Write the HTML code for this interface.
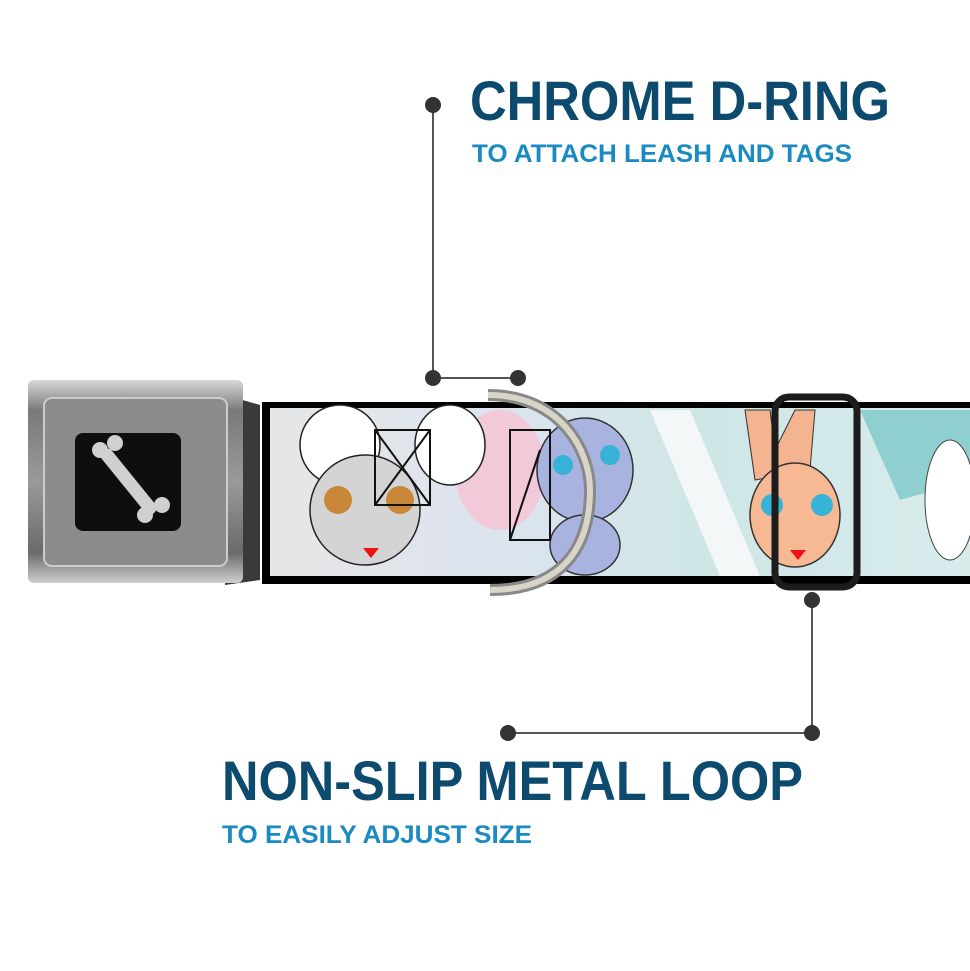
<!DOCTYPE html>
<html><head><meta charset="utf-8"><style>
html,body{margin:0;padding:0;background:#fff;}
svg{display:block}
text{font-family:"Liberation Sans",sans-serif;font-weight:bold}
</style></head><body>
<svg width="970" height="971" viewBox="0 0 970 971" xmlns="http://www.w3.org/2000/svg">
<defs>
<linearGradient id="buck" x1="0" y1="0" x2="0" y2="1">
<stop offset="0" stop-color="#d8d8d8"/><stop offset="0.15" stop-color="#7a7a7a"/><stop offset="0.5" stop-color="#9a9a9a"/><stop offset="0.85" stop-color="#6a6a6a"/><stop offset="1" stop-color="#cfcfcf"/>
</linearGradient>
<linearGradient id="strap" x1="0" y1="0" x2="1" y2="0">
<stop offset="0" stop-color="#e6e6e6"/><stop offset="0.3" stop-color="#dde4ee"/><stop offset="0.6" stop-color="#cfe6e6"/><stop offset="1" stop-color="#d8ecec"/>
</linearGradient>
</defs>
<!-- strap -->
<rect x="262" y="402" width="720" height="182" fill="#000"/>
<rect x="270" y="408" width="710" height="168" fill="url(#strap)"/>
<!-- background shapes -->
<ellipse cx="500" cy="470" rx="45" ry="60" fill="#f2c9d8"/>
<path d="M650 410 L720 576 L760 576 L690 410Z" fill="#f4f7f7"/>
<path d="M860 410 L900 500 L970 480 L970 410Z" fill="#8fcfcf"/>
<!-- bunnies -->
<ellipse cx="340" cy="445" rx="40" ry="40" fill="#fff" stroke="#222" stroke-width="1.5"/>
<ellipse cx="450" cy="445" rx="35" ry="40" fill="#fff" stroke="#222" stroke-width="1.5"/>
<ellipse cx="365" cy="510" rx="55" ry="55" fill="#d4d4d4" stroke="#222" stroke-width="1.5"/>
<circle cx="338" cy="500" r="14" fill="#c9873a"/><circle cx="400" cy="500" r="14" fill="#c9873a"/>
<path d="M363 548 l8 10 l8 -10Z" fill="#e11"/>
<ellipse cx="585" cy="470" rx="48" ry="52" fill="#a9b3e0" stroke="#333" stroke-width="1.5"/>
<ellipse cx="585" cy="545" rx="35" ry="30" fill="#a9b3e0" stroke="#333" stroke-width="1.5"/>
<circle cx="563" cy="465" r="10" fill="#37b3d8"/><circle cx="610" cy="455" r="10" fill="#37b3d8"/>
<path d="M755 480 L745 410 L770 410 L775 450 L795 410 L815 410 L810 470Z" fill="#f4b48f" stroke="#333"/>
<ellipse cx="795" cy="515" rx="45" ry="52" fill="#f6b994" stroke="#333" stroke-width="1.5"/>
<circle cx="772" cy="505" r="11" fill="#37b3d8"/><circle cx="822" cy="505" r="11" fill="#37b3d8"/>
<path d="M790 550 l8 10 l8 -10Z" fill="#e11"/>
<ellipse cx="950" cy="500" rx="25" ry="60" fill="#fff" stroke="#444"/>
<!-- stitching -->
<path d="M375 430 L430 430 L430 505 L375 505Z M375 430 L430 505 M430 430 L375 505" fill="none" stroke="#111" stroke-width="2"/>
<path d="M510 430 L550 430 L550 540 L510 540Z M510 540 L540 450" fill="none" stroke="#111" stroke-width="2"/>
<!-- d-ring -->
<path d="M488 395 C560 395 590 450 590 490 C590 550 560 590 490 590" fill="none" stroke="#888" stroke-width="12"/>
<path d="M488 395 C560 395 590 450 590 490 C590 550 560 590 490 590" fill="none" stroke="#d9d4c8" stroke-width="6"/>
<!-- loop -->
<rect x="775" y="397" width="82" height="190" rx="14" fill="none" stroke="#1c1c1c" stroke-width="7"/>
<!-- buckle -->
<path d="M225 395 L260 405 L260 580 L225 585Z" fill="#3a3a3a"/>
<rect x="28" y="380" width="215" height="203" rx="6" fill="url(#buck)"/>
<rect x="44" y="398" width="183" height="168" rx="8" fill="#8c8c8c" stroke="#ccc" stroke-width="2"/>
<rect x="75" y="433" width="106" height="98" rx="8" fill="#0e0e0e"/>
<g stroke="#d0d0d0" stroke-width="13" stroke-linecap="round"><line x1="107" y1="455" x2="150" y2="508"/></g>
<circle cx="100" cy="450" r="8" fill="#d0d0d0"/><circle cx="115" cy="443" r="8" fill="#d0d0d0"/>
<circle cx="145" cy="515" r="8" fill="#d0d0d0"/><circle cx="162" cy="505" r="8" fill="#d0d0d0"/>
<!-- callouts -->
<g stroke="#555" stroke-width="2" fill="none">
<polyline points="433,105 433,378 518,378"/>
<polyline points="812,600 812,733 508,733"/>
</g>
<g fill="#333">
<circle cx="433" cy="105" r="8"/><circle cx="433" cy="378" r="8"/><circle cx="518" cy="378" r="8"/>
<circle cx="812" cy="600" r="8"/><circle cx="812" cy="733" r="8"/><circle cx="508" cy="733" r="8"/>
</g>
<text x="470" y="120" font-size="56" fill="#0c4a6e" textLength="420" lengthAdjust="spacingAndGlyphs">CHROME D-RING</text>
<text x="472" y="162" font-size="25" fill="#1a8ac2" textLength="380" lengthAdjust="spacingAndGlyphs">TO ATTACH LEASH AND TAGS</text>
<text x="222" y="800" font-size="56" fill="#0c4a6e" textLength="581" lengthAdjust="spacingAndGlyphs">NON-SLIP METAL LOOP</text>
<text x="222" y="843" font-size="25" fill="#1a8ac2" textLength="310" lengthAdjust="spacingAndGlyphs">TO EASILY ADJUST SIZE</text>
</svg>
</body></html>
